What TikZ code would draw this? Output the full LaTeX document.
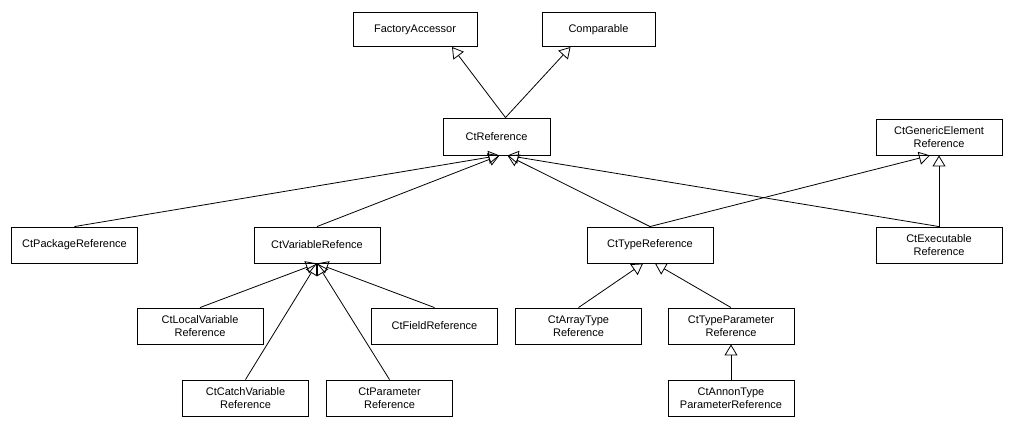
\documentclass[tikz,border=0pt]{standalone}
\usepackage{fontspec}
\setmainfont{Liberation Sans}
\usetikzlibrary{arrows.meta}
\begin{document}
\begin{tikzpicture}[x=1bp,y=-1bp,
  cls/.style={draw,line width=0.9bp,minimum width=126bp,minimum height=36bp,inner sep=0pt,
    align=center,font=\fontsize{11bp}{13.3bp}\selectfont},
  inh/.style={line width=0.8bp,-{Triangle[open,length=11bp,width=13bp]}}]
  \useasboundingbox (0,0) rectangle (1012,427);
  % interfaces
  \node[cls,minimum width=124bp,minimum height=34bp] (facc) at (415,29.5) {FactoryAccessor};
  \node[cls,minimum width=113bp,minimum height=34bp] (comp) at (598.5,29.5) {Comparable};
  \node[cls,minimum width=107bp,minimum height=37bp] (ctref) at (496.5,136.5) {CtReference};
  \node[cls] (gen) at (939,137) {CtGenericElement\\Reference};
  % second row
  \node[cls] (pkg) at (74.5,245) {CtPackageReference};
  \node[cls] (var) at (317,245) {CtVariableRefence};
  \node[cls] (type) at (650,245) {CtTypeReference};
  \node[cls] (exec) at (939,245) {CtExecutable\\Reference};
  % third row
  \node[cls] (local) at (200,326) {CtLocalVariable\\Reference};
  \node[cls] (field) at (434.5,326) {CtFieldReference};
  \node[cls] (array) at (578.5,326) {CtArrayType\\Reference};
  \node[cls] (tparam) at (731,326) {CtTypeParameter\\Reference};
  % bottom row
  \node[cls] (catch) at (245.5,398) {CtCatchVariable\\Reference};
  \node[cls] (param) at (389.5,398) {CtParameter\\Reference};
  \node[cls] (annon) at (731,398) {CtAnnonType\\ParameterReference};
  % inheritance
  \draw[inh] ([xshift=9bp]ctref.north) -- ([xshift=37bp]facc.south);
  \draw[inh] ([xshift=9bp]ctref.north) -- ([xshift=-28bp]comp.south);
  \draw[inh] (pkg.north) -- ([xshift=3bp]ctref.south);
  \draw[inh] (var.north) -- ([xshift=3bp]ctref.south);
  \draw[inh] (type.north) -- ([xshift=11bp]ctref.south);
  \draw[inh] (exec.north) -- ([xshift=11bp]ctref.south);
  \draw[inh] (type.north) -- ([xshift=-9bp]gen.south);
  \draw[inh] (exec.north) -- (gen.south);
  \draw[inh] (local.north) -- (var.south);
  \draw[inh] (field.north) -- (var.south);
  \draw[inh] (catch.north) -- (var.south);
  \draw[inh] (param.north) -- (var.south);
  \draw[inh] (array.north) -- ([xshift=-7bp]type.south);
  \draw[inh] (tparam.north) -- ([xshift=5bp]type.south);
  \draw[inh] (annon.north) -- (tparam.south);
\end{tikzpicture}
\end{document}
